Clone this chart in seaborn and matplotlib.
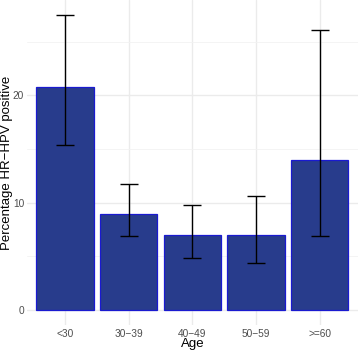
import pandas as pd
import numpy as np
import matplotlib
matplotlib.use('Agg')
import matplotlib.pyplot as plt
import seaborn as sns
from matplotlib.ticker import MultipleLocator

# values
ages = ['<30', '30\u221239', '40\u221249', '50\u221259', '>=60']
pct = [20.8, 9.0, 7.0, 7.0, 13.95]
ci_low = [15.4, 6.9, 4.9, 4.4, 6.9]
ci_high = [27.5, 11.75, 9.8, 10.6, 26.1]

df = pd.DataFrame({'age': ages, 'pct': pct, 'low': ci_low, 'high': ci_high})

sns.set_style('white')
plt.rcParams['font.family'] = ['Liberation Sans', 'DejaVu Sans']

fig = plt.figure(figsize=(3.58, 3.53), dpi=100)
ax = fig.add_axes([0.075, 0.079, 0.925, 0.921])

sns.barplot(data=df, x='age', y='pct', color='#283C8C', edgecolor='#1A1AD0',
            linewidth=0.9, width=0.9, saturation=1, errorbar=None, ax=ax)

# error bars at the category positions
xs = ax.get_xticks()
ax.errorbar(xs, df['pct'], yerr=[df['pct'] - df['low'], df['high'] - df['pct']],
            fmt='none', ecolor='black', elinewidth=1.0, capsize=6.5, capthick=1.0)

ax.set_xlim(-0.6, 4.6)
ax.set_ylim(-1.4, 28.9)
ax.yaxis.set_major_locator(MultipleLocator(10))
ax.yaxis.set_minor_locator(MultipleLocator(5))

# grid like ggplot theme_minimal (after barplot, which turns the x grid off)
ax.xaxis.grid(True, which='major', color='#EBEBEB', linewidth=1.0)
ax.yaxis.grid(True, which='major', color='#EBEBEB', linewidth=1.0)
ax.yaxis.grid(True, which='minor', color='#F2F2F2', linewidth=0.6)
ax.set_axisbelow(True)

for s in ax.spines.values():
    s.set_visible(False)
ax.tick_params(axis='both', which='both', length=0, labelsize=7.3, colors='#4D4D4D')
ax.tick_params(axis='y', pad=2)
ax.tick_params(axis='x', pad=3)
ax.set_xlabel('Age', fontsize=9.5, color='black')
ax.set_ylabel('Percentage HR\u2212HPV positive', fontsize=9.5, color='black')
ax.yaxis.set_label_coords(-0.043, 0.5)
ax.xaxis.set_label_coords(0.5, -0.04)

fig.savefig('out.png', dpi=100)
